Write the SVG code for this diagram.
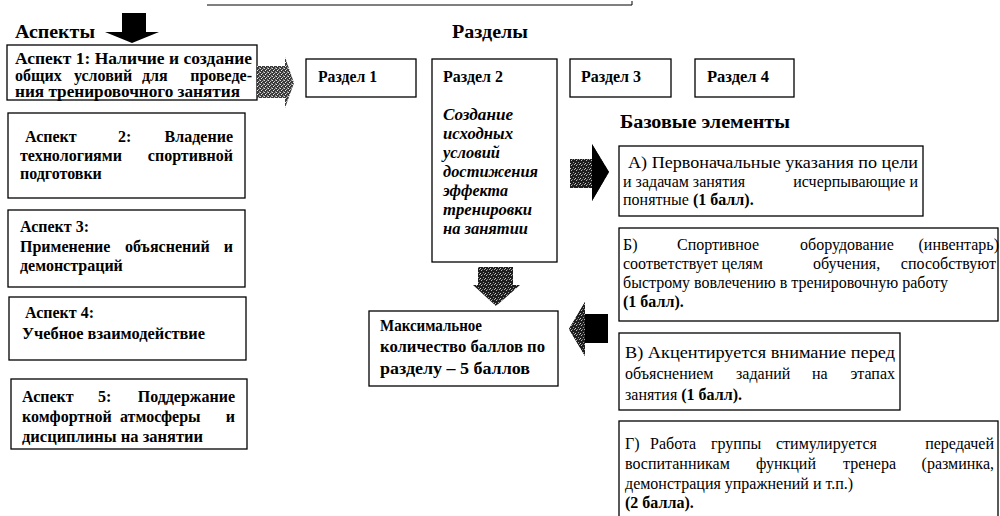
<svg xmlns="http://www.w3.org/2000/svg" width="1000" height="516" viewBox="0 0 1000 516">
<style>
.box{fill:#fff;stroke:#000;stroke-width:1.3}
text{font-family:"Liberation Serif","Times New Roman",serif;fill:#000}
.h{font-weight:bold;font-size:18px}
.b{font-weight:bold;font-size:16px}
.bi{font-weight:bold;font-style:italic;font-size:16px}
.m{font-weight:bold;font-size:16px}
.r{font-size:16px}
.rb{font-weight:bold}
.e{text-anchor:end}
</style>
<defs>
<pattern id="dith" width="5" height="5" patternUnits="userSpaceOnUse">
<rect width="5" height="5" fill="#1e1e1e"/>
<rect x="1" y="0" width="1" height="1" fill="#bbb"/>
<rect x="3" y="2" width="1" height="1" fill="#999"/>
<rect x="0" y="3" width="1" height="1" fill="#ccc"/>
<rect x="4" y="4" width="1" height="1" fill="#aaa"/>
<rect x="2" y="4" width="1" height="1" fill="#777"/>
</pattern>
<pattern id="dithL" width="4" height="4" patternUnits="userSpaceOnUse">
<rect width="4" height="4" fill="#3a3a3a"/>
<rect x="0" y="0" width="1" height="1" fill="#ddd"/>
<rect x="2" y="1" width="1" height="1" fill="#bbb"/>
<rect x="1" y="2" width="1" height="1" fill="#eee"/>
<rect x="3" y="3" width="1" height="1" fill="#999"/>
<rect x="3" y="0" width="1" height="1" fill="#888"/>
</pattern>
</defs>
<rect width="1000" height="516" fill="#fff"/>
<line x1="207" y1="5" x2="632" y2="5" stroke="#000" stroke-width="1"/>
<line x1="632" y1="1" x2="632" y2="5" stroke="#000" stroke-width="1"/>

<text class="h" x="15" y="38" textLength="80" lengthAdjust="spacingAndGlyphs">Аспекты</text>
<text class="h" x="452" y="38" textLength="76" lengthAdjust="spacingAndGlyphs">Разделы</text>
<text class="h" x="620" y="128" textLength="170" lengthAdjust="spacingAndGlyphs">Базовые элементы</text>

<g id="aspect1">
<rect class="box" x="7" y="45" width="250" height="55"/>
<text class="b" x="15" y="64" textLength="237" lengthAdjust="spacingAndGlyphs">Аспект 1: Наличие и создание</text>
<text class="b" x="15" y="81">общих</text>
<text class="b" x="74" y="81">условий</text>
<text class="b" x="142" y="81">для</text>
<text class="b e" x="252" y="81">проведе-</text>
<text class="b" x="15" y="97" textLength="225" lengthAdjust="spacingAndGlyphs">ния тренировочного занятия</text>
</g>

<g id="aspect2">
<rect class="box" x="8" y="113" width="237" height="85"/>
<text class="b" x="25" y="142">Аспект</text>
<text class="b" x="118" y="142">2:</text>
<text class="b e" x="233" y="142">Владение</text>
<text class="b" x="20" y="161">технологиями</text>
<text class="b e" x="233" y="161">спортивной</text>
<text class="b" x="20" y="179">подготовки</text>
</g>

<g id="aspect3">
<rect class="box" x="8" y="210" width="237" height="77"/>
<text class="b" x="20" y="232">Аспект 3:</text>
<text class="b" x="20" y="252">Применение</text>
<text class="b" x="125" y="252">объяснений</text>
<text class="b e" x="233" y="252">и</text>
<text class="b" x="20" y="271">демонстраций</text>
</g>

<g id="aspect4">
<rect class="box" x="9" y="297" width="237" height="63"/>
<text class="b" x="25" y="318">Аспект 4:</text>
<text class="b" x="22" y="339" textLength="183" lengthAdjust="spacingAndGlyphs">Учебное взаимодействие</text>
</g>

<g id="aspect5">
<rect class="box" x="11" y="379" width="236" height="70"/>
<text class="b" x="22" y="402">Аспект</text>
<text class="b" x="98" y="402">5:</text>
<text class="b e" x="235" y="402">Поддержание</text>
<text class="b" x="22" y="422">комфортной</text>
<text class="b" x="120" y="422">атмосферы</text>
<text class="b e" x="235" y="422">и</text>
<text class="b" x="22" y="442" textLength="181" lengthAdjust="spacingAndGlyphs">дисциплины на занятии</text>
</g>

<g id="razdel1">
<rect class="box" x="306" y="59" width="110" height="38"/>
<text class="b" x="318" y="82" textLength="59" lengthAdjust="spacingAndGlyphs">Раздел 1</text>
</g>
<g id="razdel2">
<rect class="box" x="432" y="59" width="125" height="203"/>
<text class="b" x="443" y="82" textLength="60" lengthAdjust="spacingAndGlyphs">Раздел 2</text>
<text class="bi" x="443" y="120" textLength="70" lengthAdjust="spacingAndGlyphs">Создание</text>
<text class="bi" x="443" y="139" textLength="70" lengthAdjust="spacingAndGlyphs">исходных</text>
<text class="bi" x="443" y="158" textLength="57" lengthAdjust="spacingAndGlyphs">условий</text>
<text class="bi" x="443" y="177" textLength="95" lengthAdjust="spacingAndGlyphs">достижения</text>
<text class="bi" x="443" y="196" textLength="65" lengthAdjust="spacingAndGlyphs">эффекта</text>
<text class="bi" x="443" y="215" textLength="89" lengthAdjust="spacingAndGlyphs">тренировки</text>
<text class="bi" x="443" y="234" textLength="85" lengthAdjust="spacingAndGlyphs">на занятии</text>
</g>
<g id="razdel3">
<rect class="box" x="570" y="59" width="101" height="38"/>
<text class="b" x="581" y="82" textLength="60" lengthAdjust="spacingAndGlyphs">Раздел 3</text>
</g>
<g id="razdel4">
<rect class="box" x="695" y="59" width="99" height="38"/>
<text class="b" x="707" y="82" textLength="62" lengthAdjust="spacingAndGlyphs">Раздел 4</text>
</g>

<g id="max">
<rect class="box" x="369" y="311" width="189" height="75"/>
<text class="m" x="380" y="331" textLength="102" lengthAdjust="spacingAndGlyphs">Максимальное</text>
<text class="m" x="380" y="352" textLength="165" lengthAdjust="spacingAndGlyphs">количество баллов по</text>
<text class="m" x="380" y="374" font-size="17" textLength="150" lengthAdjust="spacingAndGlyphs">разделу – 5 баллов</text>
</g>

<g id="elemA">
<rect class="box" x="619" y="146" width="304" height="70"/>
<text class="r" x="628" y="168" textLength="290" lengthAdjust="spacingAndGlyphs">А) Первоначальные указания по цели</text>
<text class="r" x="623" y="187">и задачам занятия</text>
<text class="r e" x="918" y="187">исчерпывающие и</text>
<text class="r" x="623" y="205">понятные <tspan class="rb">(1 балл).</tspan></text>
</g>

<g id="elemB">
<rect class="box" x="619" y="228" width="379" height="93"/>
<text class="r" x="623" y="250">Б)</text>
<text class="r" x="677" y="250">Спортивное</text>
<text class="r" x="800" y="250">оборудование</text>
<text class="r e" x="999" y="250">(инвентарь)</text>
<text class="r" x="623" y="269">соответствует целям</text>
<text class="r" x="813" y="269">обучения,</text>
<text class="r e" x="996" y="269">способствуют</text>
<text class="r" x="623" y="288">быстрому вовлечению в тренировочную работу</text>
<text class="r rb" x="623" y="307">(1 балл).</text>
</g>

<g id="elemV">
<rect class="box" x="619" y="333" width="281" height="77"/>
<text class="r" x="625" y="358" textLength="270" lengthAdjust="spacingAndGlyphs">В) Акцентируется внимание перед</text>
<text class="r" x="625" y="379">объяснением</text>
<text class="r" x="736" y="379">заданий</text>
<text class="r" x="812" y="379">на</text>
<text class="r e" x="895" y="379">этапах</text>
<text class="r" x="625" y="400">занятия <tspan class="rb">(1 балл).</tspan></text>
</g>

<g id="elemG">
<rect class="box" x="619" y="421" width="379" height="100"/>
<text class="r" x="625" y="449">Г)</text>
<text class="r" x="650" y="449">Работа</text>
<text class="r" x="711" y="449">группы</text>
<text class="r" x="776" y="449">стимулируется</text>
<text class="r e" x="994" y="449">передачей</text>
<text class="r" x="625" y="469">воспитанникам</text>
<text class="r" x="756" y="469">функций</text>
<text class="r" x="843" y="469">тренера</text>
<text class="r e" x="994" y="469">(разминка,</text>
<text class="r" x="625" y="489">демонстрация упражнений и т.п.)</text>
<text class="r rb" x="625" y="508">(2 балла).</text>
</g>

<g id="connectors">
<polygon points="122,13 146,13 146,32 159,32 132,43 105,32 122,32" fill="#000"/>
<polygon points="257,66 285,66 285,57 294,83 285,108 285,98 257,98" fill="url(#dithL)"/>
<polygon points="570,159 592,159 592,144 609,172 592,201 592,188 570,188" fill="url(#dith)"/>
<polygon points="592,144 609,172 592,201" fill="#000"/>
<polygon points="478,267 513,267 513,285 520,285 496,306 473,285 478,285" fill="url(#dith)"/>
<polygon points="608,314 585,314 585,302 569,329 585,356 585,343 608,343" fill="#000"/>
<polygon points="585,302 569,329 585,356" fill="url(#dith)"/>
</g>
</svg>
